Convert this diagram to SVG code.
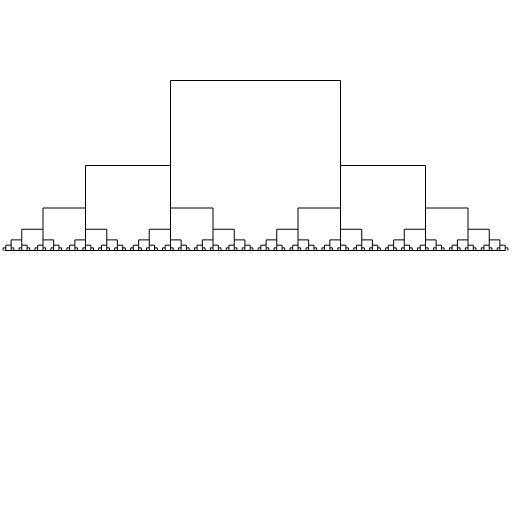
<svg xmlns="http://www.w3.org/2000/svg" width="512" height="512" viewBox="0 0 512 512">
<style>
path{fill:none;stroke:#000;stroke-width:1;vector-effect:non-scaling-stroke}
</style>
<defs>
<path id="leaf" d="M170.5,250.5V80.5H340.5V250.5"/>
<path id="bar" d="M170.5,165.5V80.5H340.5V165.5"/>
<g id="g0"><use href="#leaf"/></g>
<g id="g1"><use href="#bar"/><use href="#g0" transform="matrix(.5 0 0 .5 .25 125.25)"/><use href="#g0" transform="matrix(.5 0 0 .5 255.25 125.25)"/></g>
<g id="g2"><use href="#bar"/><use href="#g1" transform="matrix(.5 0 0 .5 .25 125.25)"/><use href="#g1" transform="matrix(.5 0 0 .5 255.25 125.25)"/></g>
<g id="g3"><use href="#bar"/><use href="#g2" transform="matrix(.5 0 0 .5 .25 125.25)"/><use href="#g2" transform="matrix(.5 0 0 .5 255.25 125.25)"/></g>
<g id="g4"><use href="#bar"/><use href="#g3" transform="matrix(.5 0 0 .5 .25 125.25)"/><use href="#g3" transform="matrix(.5 0 0 .5 255.25 125.25)"/></g>
<g id="g5"><use href="#bar"/><use href="#g4" transform="matrix(.5 0 0 .5 .25 125.25)"/><use href="#g4" transform="matrix(.5 0 0 .5 255.25 125.25)"/></g>
<g id="g6"><use href="#bar"/><use href="#g5" transform="matrix(.5 0 0 .5 .25 125.25)"/><use href="#g5" transform="matrix(.5 0 0 .5 255.25 125.25)"/></g>
</defs>
<rect width="512" height="512" fill="#fff"/>
<g id="tree"><use href="#g6"/><path d="M4.5,250.5H505.5"/></g>
</svg>
